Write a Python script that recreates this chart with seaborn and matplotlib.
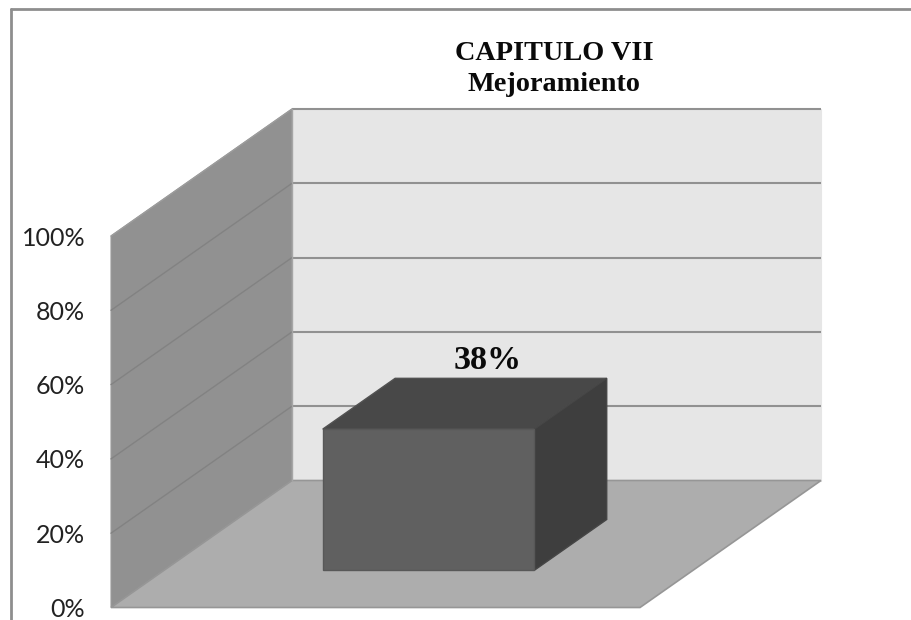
import matplotlib
matplotlib.use("Agg")
import matplotlib.pyplot as plt
from matplotlib.lines import Line2D
from matplotlib.patches import Rectangle
from matplotlib.transforms import Affine2D
import pandas as pd
import seaborn as sns

# Data
categories = ["Mejoramiento"]
values = [38]
y_ticks = [0, 20, 40, 60, 80, 100]
y_tick_labels = ["0%", "20%", "40%", "60%", "80%", "100%"]
title_text = "CAPITULO VII\nMejoramiento"

W, H = 911, 620
sns.set_theme(style="white")
fig = plt.figure(figsize=(W / 100, H / 100), dpi=100, facecolor="white")
# The plane of the front edge of the floor
ax = fig.add_axes([111 / W, 1 - 607.5 / H, 529 / W, 371.5 / H])

# Oblique projection: depth 0 is the front edge, depth 1 the back wall
DX, DY = 181 / 529, 127 / 3.715


def proj(x, y, depth):
    return x + DX * depth, y + DY * depth


def face(points, color, edge=None, lw=0.8, z=1):
    xs, ys = zip(*[proj(*p) for p in points])
    ax.fill(xs, ys, facecolor=color, edgecolor=edge or color, linewidth=lw,
            zorder=z, clip_on=False)


X0, X1 = -0.5, 0.5
Y0, Y1 = y_ticks[0], y_ticks[-1]
face([(X0, Y0, 1), (X1, Y0, 1), (X1, Y1, 1), (X0, Y1, 1)], "#e6e6e6")
face([(X0, Y0, 0), (X0, Y0, 1), (X0, Y1, 1), (X0, Y1, 0)], "#919191", "#9a9a9a")
face([(X0, Y0, 0), (X1, Y0, 0), (X1, Y0, 1), (X0, Y0, 1)], "#adadad", "#969696", 1.2, z=2)

for v in y_ticks[1:]:
    xs, ys = zip(proj(X0, v, 1), proj(X1, v, 1))
    ax.plot(xs, ys, color="#919191", lw=1.5, zorder=3, clip_on=False, solid_capstyle="butt")
    if v < y_ticks[-1]:
        xs, ys = zip(proj(X0, v, 0), proj(X0, v, 1))
        ax.plot(xs, ys, color="#828282", lw=1.0, zorder=3, clip_on=False)
xs, ys = zip(proj(X0, Y1, 0), proj(X0, Y1, 1))
ax.plot(xs, ys, color="#9c9c9c", lw=1.0, zorder=3, clip_on=False)
xs, ys = zip(proj(X0, Y0, 1), proj(X0, Y1, 1))
ax.plot(xs, ys, color="#a6a6a6", lw=1.0, zorder=3, clip_on=False)

# Bar: the front face comes from seaborn, moved back onto the floor
BAR_WIDTH = 0.4
D0, D1 = 0.293, 0.693
df = pd.DataFrame({"categoria": categories, "valor": values})
sns.barplot(data=df, x="categoria", y="valor", width=BAR_WIDTH, color="#606060",
            saturation=1, ax=ax, zorder=6)
ox, oy = proj(0, 0, D0)
for patch in ax.patches:
    if isinstance(patch, Rectangle):
        patch.set_transform(Affine2D().translate(ox, oy) + ax.transData)
        patch.set_clip_on(False)
        patch.set_edgecolor("#585858")
        patch.set_linewidth(1.0)

for i, v in enumerate(values):
    l, r = i - BAR_WIDTH / 2, i + BAR_WIDTH / 2
    face([(l, v, D0), (r, v, D0), (r, v, D1), (l, v, D1)], "#484848", "#525252", 1.0, z=5)
    face([(r, 0, D0), (r, v, D0), (r, v, D1), (r, 0, D1)], "#3e3e3e", "#464646", 1.0, z=5)
    lx, ly = proj(i, v, D1)
    ax.text(lx - 0.026, ly + 0.5, f"{v}%", ha="center", va="bottom",
            family="Liberation Serif", weight="bold", fontsize=24.5, color="#0a0a0a",
            zorder=7, clip_on=False)

ax.set_xlim(X0, X1)
ax.set_ylim(Y0, Y1)
ax.set_xlabel("")
ax.set_ylabel("")
ax.set_xticks([])
ax.set_yticks(y_ticks, y_tick_labels)
ax.tick_params(axis="y", length=0, pad=18.5, labelsize=18, labelcolor="#222222")
for lab in ax.get_yticklabels():
    lab.set_family("Lato")
for s in ax.spines.values():
    s.set_visible(False)
ax.patch.set_visible(False)
ax.grid(False)

ax.set_title(title_text, x=(554 - 111) / 529, y=(607.5 - 91) / 371.5, pad=0,
             family="Liberation Serif", weight="bold", fontsize=20.3,
             color="#0a0a0a", linespacing=1.3)

# Outer chart frame: only the top and left edges are visible
fr = dict(color="#8e8e8e", lw=2, transform=fig.transFigure)
fig.add_artist(Line2D([11 / W, 11 / W], [0, 1 - 9 / H], **fr))
fig.add_artist(Line2D([11 / W, 1], [1 - 9 / H, 1 - 9 / H], **fr))

fig.savefig("out.png", dpi=100)
